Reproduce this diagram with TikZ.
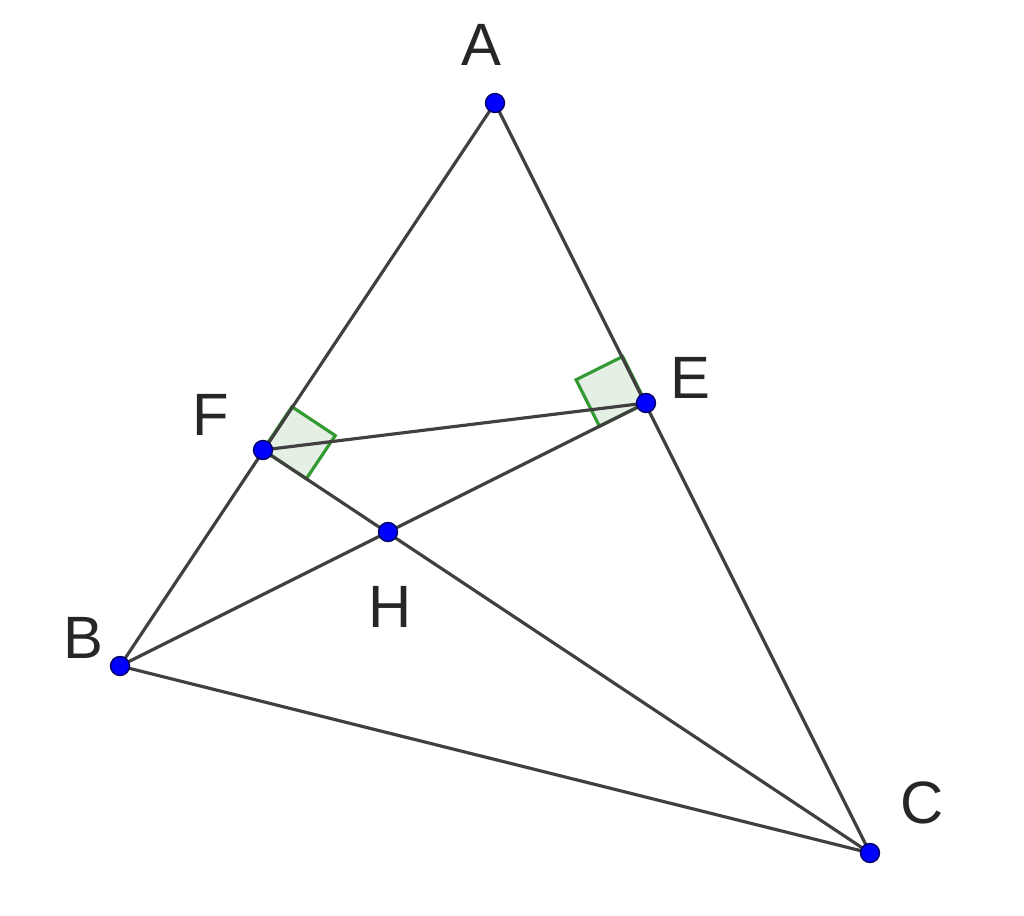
\documentclass[tikz,border=0pt]{standalone}
\usepackage{fontspec}
\setmainfont{Liberation Sans}
\usetikzlibrary{calc}

\tikzset{
    seg/.style={draw=black!75, line width=0.9pt},
    rmark/.style={draw=green!50!black!80, fill=green!40!black!10, line width=0.9pt},
    pt/.style={circle, fill=blue, draw=blue!40!black, line width=0.4pt, inner sep=0pt, minimum size=0.19cm},
    lbl/.style={font=\fontsize{17}{17}\selectfont, text=black!85}
}

\begin{document}
\begin{tikzpicture}[x=0.01cm, y=-0.01cm]
    \useasboundingbox (0,0) rectangle (1024,916);
    % vertices and feet of altitudes
    \coordinate (A) at (495,103);
    \coordinate (B) at (120,666);
    \coordinate (C) at (870,853);
    \coordinate (E) at (646,403);
    \coordinate (F) at (263,450);
    \coordinate (H) at (388,532);

    % right angle marks
    \path[rmark] (F) -- ($(F)!0.52cm!(A)$) -- ($($(F)!0.52cm!(A)$)+($(F)!0.52cm!(C)$)-(F)$) -- ($(F)!0.52cm!(C)$) -- cycle;
    \path[rmark] (E) -- ($(E)!0.52cm!(A)$) -- ($($(E)!0.52cm!(A)$)+($(E)!0.52cm!(B)$)-(E)$) -- ($(E)!0.52cm!(B)$) -- cycle;

    % sides and altitudes
    \draw[seg] (A) -- (B) -- (C) -- cycle;
    \draw[seg] (B) -- (E);
    \draw[seg] (C) -- (F);
    \draw[seg] (F) -- (E);

    \foreach \p in {A,B,C,E,F,H} \node[pt] (n\p) at (\p) {};

    \node[lbl] at (481,45) {A};
    \node[lbl] at (83,638) {B};
    \node[lbl] at (922,803) {C};
    \node[lbl] at (690,378) {E};
    \node[lbl] at (211,415) {F};
    \node[lbl] at (390,607) {H};
\end{tikzpicture}
\end{document}
